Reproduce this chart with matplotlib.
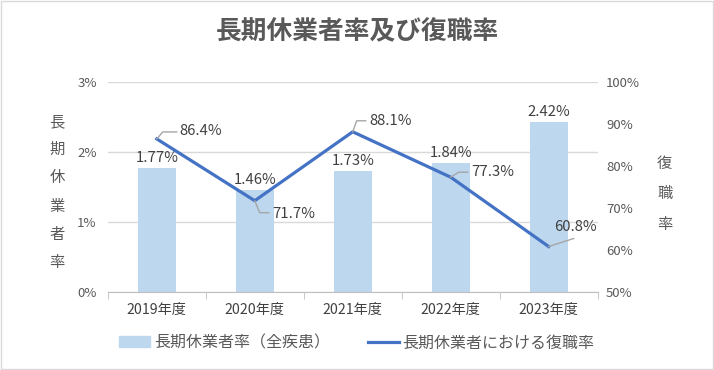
import numpy as np
import matplotlib.pyplot as plt
from matplotlib.patches import Rectangle
from matplotlib.lines import Line2D
from matplotlib.ticker import FuncFormatter

plt.rcParams['font.family'] = ['Noto Sans CJK JP', 'DejaVu Sans']

years = ['2019年度', '2020年度', '2021年度', '2022年度', '2023年度']
absence_rate = [1.77, 1.46, 1.73, 1.84, 2.42]   # 長期休業者率（全疾患）%
return_rate = [86.4, 71.7, 88.1, 77.3, 60.8]    # 復職率 %

# label placement for the line labels (pixels from the point): text left edge, leader path
text_off = [(23, 8), (17, -13), (17, 11), (21, 5), (5, 20)]
leader_path = [[(0, 0), (6, 7), (20, 7)],
               [(0, 0), (5, -12), (14, -12)],
               [(0, 0), (4, 11), (13, 11)],
               [(0, 0), (8, 5), (17, 5)],
               [(0, 0), (25, 8)]]

fig = plt.figure(figsize=(7.14, 3.70), dpi=100)
fig.patches.append(Rectangle((0.002, 0.003), 0.996, 0.994, transform=fig.transFigure,
                             fill=False, edgecolor='#D9D9D9', linewidth=1))
ax = fig.add_axes([0.151, 0.211, 0.686, 0.568])
ax2 = ax.twinx()

x = np.arange(len(years))
ax.bar(x, absence_rate, width=0.39, color='#BDD7EE', zorder=2)
for xi, v in zip(x, absence_rate):
    ax.annotate(f'{v:.2f}%', (xi, v), xytext=(0, 3), textcoords='offset pixels',
                ha='center', va='bottom', fontsize=10.7, color='#404040')

ax.set_ylim(0, 3)
ax.set_yticks([0, 1, 2, 3])
ax.yaxis.set_major_formatter(FuncFormatter(lambda v, p: f'{v:.0f}%'))
ax.grid(axis='y', color='#D9D9D9', linewidth=1, zorder=0)
ax.set_axisbelow(True)
ax.set_xlim(-0.5, len(years) - 0.5)
ax.set_xticks(x)
ax.set_xticklabels(years, fontsize=10.2)
ax.set_xticks(np.arange(-0.5, len(years)), minor=True)
ax.tick_params(axis='x', which='major', length=0, pad=8, colors='#404040')
ax.tick_params(axis='x', which='minor', length=5, color='#BFBFBF')
ax.tick_params(axis='y', length=0, labelsize=9.5, colors='#595959', pad=8)
for s in ['top', 'left', 'right']:
    ax.spines[s].set_visible(False)
ax.spines['bottom'].set_color('#BFBFBF')

ax2.plot(x, return_rate, color='#4472C4', linewidth=2.3, zorder=3)
ax2.set_ylim(50, 100)
ax2.set_yticks([50, 60, 70, 80, 90, 100])
ax2.yaxis.set_major_formatter(FuncFormatter(lambda v, p: f'{v:.0f}%'))
ax2.tick_params(axis='y', length=0, labelsize=9.5, colors='#595959', pad=6)
for s in ['top', 'left', 'right', 'bottom']:
    ax2.spines[s].set_visible(False)

for xi, v, (dx, dy), path in zip(x, return_rate, text_off, leader_path):
    ax2.annotate(f'{v:.1f}%', (xi, v), xytext=(dx, dy), textcoords='offset pixels',
                 ha='left', va='center', fontsize=10.7, color='#404040')
    px, py = ax2.transData.transform((xi, v))
    fig.add_artist(Line2D([px + p[0] for p in path], [py + p[1] for p in path],
                          transform=None, color='#A6A6A6', linewidth=1, zorder=4))

fig.text(0.5, 0.914, '長期休業者率及び復職率', ha='center', va='center',
         fontsize=18.5, fontweight='bold', color='#595959')
fig.text(0.080, 0.481, '\n'.join('長期休業者率'), ha='center', va='center',
         fontsize=11, color='#595959', linespacing=1.87)
fig.text(0.931, 0.476, '\n'.join('復職率'), ha='center', va='center',
         fontsize=11, color='#595959', linespacing=2.05)

handles = [Rectangle((0, 0), 1, 1, color='#BDD7EE'),
           Line2D([0], [0], color='#4472C4', linewidth=2.3)]
fig.legend(handles, ['長期休業者率（全疾患）', '長期休業者における復職率'],
           loc='center', bbox_to_anchor=(0.5, 0.073), ncol=2, frameon=False,
           fontsize=11.5, labelcolor='#595959', handlelength=1.9,
           handletextpad=0.25, columnspacing=2.4)

fig.savefig('out.png', dpi=100)
